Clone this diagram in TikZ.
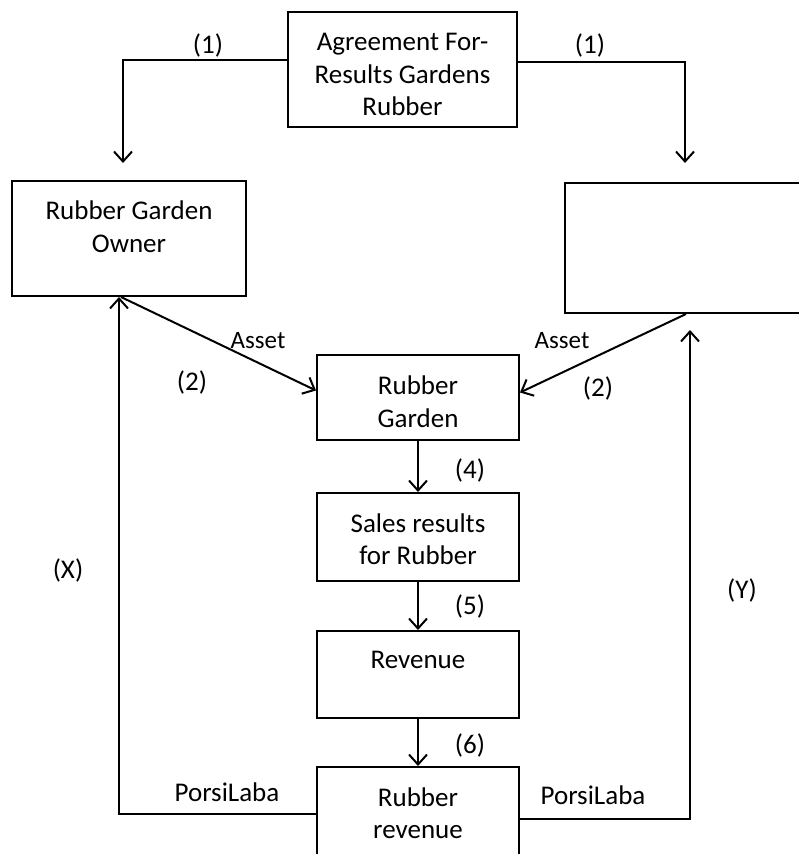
\documentclass[tikz,border=0pt]{standalone}
\usepackage{fontspec}
\setmainfont{Carlito}
\usetikzlibrary{arrows.meta, positioning}
\tikzstyle{arrow} = [line width=2pt,-{Straight Barb[length=10pt,width=18pt]}]

\begin{document}
\begin{tikzpicture}[x=1pt, y=1pt]
	% Styles for the boxes, their texts and the small labels
	\tikzstyle{block} = [rectangle, draw, line width=2pt, inner sep=0pt, minimum width=202pt]
	\tikzstyle{words} = [align=center, inner sep=0pt, font=\fontsize{27}{32.5}\selectfont]
	\tikzstyle{tag} = [font=\fontsize{27}{32}\selectfont]
	\useasboundingbox (0,0) rectangle (798,-854);
	
	% Agreement
	\node[block, minimum width=229pt, minimum height=115pt,
		label={[words, yshift=-5pt]center:{Agreement For-\\Results Gardens\\Rubber}}] (agree) at (402.5,-69.5) {};
	
	% The two parties
	\node[block, minimum width=234pt, minimum height=115pt,
		label={[words, yshift=12pt]center:{Rubber Garden\\Owner}}] (owner) at (129,-238.5) {};
	\node[block, minimum width=275pt, minimum height=130pt] (partner) at (702.5,-248) {};
	
	% Middle column
	\node[block, minimum height=85pt,
		label={[words, yshift=-4pt]center:{Rubber\\Garden}}] (garden) at (418,-397.5) {};
	\node[block, minimum height=88pt, below=51pt of garden,
		label={[words, yshift=-2pt]center:{Sales results\\for Rubber}}] (sales) {};
	\node[block, minimum height=87pt, below=48pt of sales,
		label={[words, yshift=14.5pt]center:Revenue}] (revenue) {};
	\node[block, minimum height=104pt, below=47pt of revenue,
		label={[words, yshift=6pt]center:{Rubber\\revenue}}] (rubrev) {};
	
	% Free ends of the arrows
	\coordinate (ownerin) at (123,-163);
	\coordinate (partnerin) at (685,-163);
	\coordinate (partnerback) at (690,-330);
	
	% Connectors
	\draw[arrow] ([yshift=9.5pt]agree.west) -| (ownerin);
	\draw[arrow] ([yshift=7.5pt]agree.east) -| (partnerin);
	\draw[arrow] ([xshift=-8pt]owner.south) -- ([yshift=7pt]garden.west);
	\draw[arrow] ([xshift=-16.5pt]partner.south) -- ([yshift=5pt]garden.east);
	\draw[arrow] (garden) -- (sales);
	\draw[arrow] (sales) -- (revenue);
	\draw[arrow] (revenue) -- (rubrev);
	\draw[arrow] ([yshift=5pt]rubrev.west) -| ([xshift=-10pt]owner.south);
	\draw[arrow] (rubrev.east) -| (partnerback);
	
	% Labels
	\node[tag] (oneleft) at (208,-45) {(1)};
	\node[tag] (oneright) at (590,-45) {(1)};
	\node[tag, font=\fontsize{25}{30}\selectfont] (assetleft) at (258,-341) {Asset};
	\node[tag, font=\fontsize{25}{30}\selectfont] (assetright) at (562,-341) {Asset};
	\node[tag] (twoleft) at (192,-382) {(2)};
	\node[tag] (tworight) at (598,-388) {(2)};
	\node[tag] (four) at (470,-470) {(4)};
	\node[tag] (five) at (470,-606) {(5)};
	\node[tag] (six) at (470,-745) {(6)};
	\node[tag] (xlabel) at (68,-570) {(X)};
	\node[tag] (ylabel) at (742,-590) {(Y)};
	\node[tag] (shareleft) at (227,-792) {PorsiLaba};
	\node[tag] (shareright) at (593,-795) {PorsiLaba};
\end{tikzpicture}
\end{document}
